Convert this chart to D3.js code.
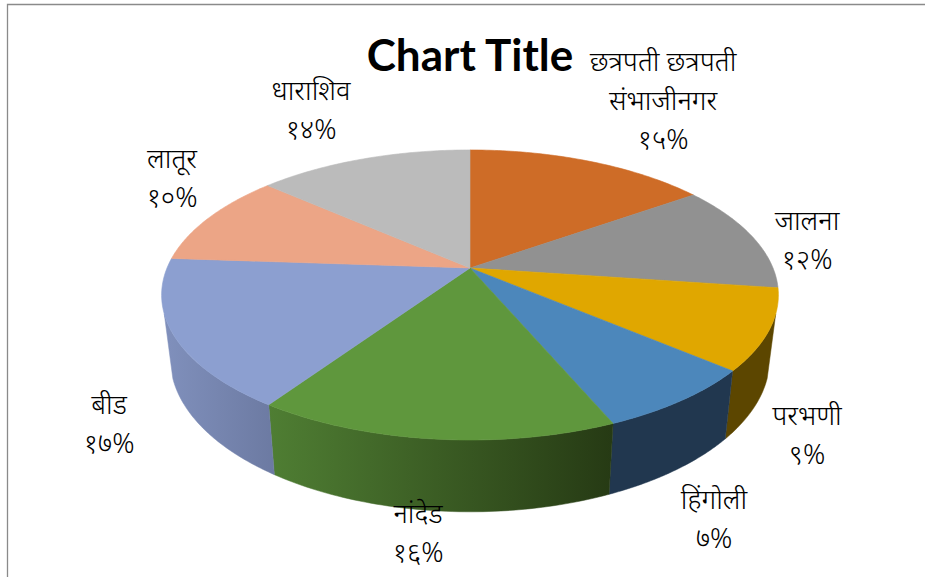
<!DOCTYPE html>
<html>
<head>
<meta charset="utf-8">
<script src="https://cdn.jsdelivr.net/npm/d3@7"></script>
<style>
html,body{margin:0;padding:0;background:#fff;overflow:hidden}
svg{display:block}
text{fill:#000;text-anchor:middle}
.lab{font-family:"Noto Sans",sans-serif;font-size:27.5px;font-weight:300}
.title{font-family:Lato,"Open Sans",sans-serif;font-weight:700;font-size:44px}
</style>
</head>
<body>
<svg id="c" width="925" height="577"></svg>
<script>
const titleText = "Chart Title";
const districts = ["छत्रपती छत्रपती संभाजीनगर","जालना","परभणी","हिंगोली","नांदेड","बीड","लातूर","धाराशिव"];
const shares = [15.2, 12.0, 9.0, 7.4, 15.9, 16.6, 10.4, 13.5];
const shareLabels = ["१५%","१२%","९%","७%","१६%","१७%","१०%","१४%"];
const topColors = ["#CE6C27","#919191","#E0A700","#4C87BB","#5F973D","#8C9FD0","#ECA586","#BBBBBB"];
const sideFrom = ["#7a4018","#575757","#5C4600","#21374F","#4F7E33","#8090BC","#8e6350","#707070"];
const sideTo   = ["#7a4018","#575757","#5C4600","#21374F","#263A14","#6C7AA2","#8e6350","#707070"];
const labelLines = [[["छत्रपती छत्रपती",71],["संभाजीनगर",110],["१५%",149]],null,null,null,null,null,null,null];
const labelPos = [[663,0],[807,230],[807,425],[714,509],[418,523],[109,414],[172,168],[311,100]];

const svg = d3.select("#c");
const W = 925, H = 577;
const persp = 0.186;
const topDisc = {cx:470, cy:268, a:303, b:140};
const botDisc = {cx:470, cy:330, a:294.5, b:148};
const proj = (d, ang) => {
  const X = Math.sin(ang), Y = Math.cos(ang), k = 1 + persp * Y;
  return [d.cx + d.a * X / k, d.cy - d.b * Y / k];
};
const line = d3.line();
const arcPts = (d, a0, a1) => d3.range(0, 61).map(i => proj(d, a0 + (a1 - a0) * i / 60));

const pie = d3.pie().sort(null).value(d => d)(shares);
const defs = svg.append("defs");
const visA = 108 * Math.PI / 180, visB = 252 * Math.PI / 180;

// frame
svg.append("path").attr("d", line([[7.5,H],[7.5,4.5],[W,4.5]]))
  .attr("fill","none").attr("stroke","#8a8a8a").attr("stroke-width",1.3);

// sides
pie.forEach((s, i) => {
  const a0 = Math.max(s.startAngle, visA), a1 = Math.min(s.endAngle, visB);
  if (a1 <= a0) return;
  const t = arcPts(topDisc, a0, a1), b = arcPts(botDisc, a0, a1);
  const xs = t.concat(b).map(p => p[0]);
  const g = defs.append("linearGradient").attr("id","g"+i).attr("gradientUnits","userSpaceOnUse")
    .attr("x1", d3.min(xs)).attr("x2", d3.max(xs)).attr("y1",0).attr("y2",0);
  g.append("stop").attr("offset",0).attr("stop-color", sideFrom[i]);
  g.append("stop").attr("offset",1).attr("stop-color", sideTo[i]);
  svg.append("path").attr("d", line(t.concat(b.reverse())) + "Z")
    .attr("fill","url(#g"+i+")").attr("stroke","url(#g"+i+")").attr("stroke-width",0.5);
});

// top face
pie.forEach((s, i) => {
  const pts = [[topDisc.cx, topDisc.cy]].concat(arcPts(topDisc, s.startAngle, s.endAngle));
  svg.append("path").attr("d", line(pts) + "Z").attr("fill", topColors[i])
    .attr("stroke", topColors[i]).attr("stroke-width",0.6);
});

// title
svg.append("text").attr("class","title").attr("x",470).attr("y",71).text(titleText);

// labels
districts.forEach((n, i) => {
  if (labelLines[i]) {
    labelLines[i].forEach(l => svg.append("text").attr("class","lab").attr("x",labelPos[i][0]).attr("y",l[1]).text(l[0]));
  } else {
    svg.append("text").attr("class","lab").attr("x",labelPos[i][0]).attr("y",labelPos[i][1]).text(n);
    svg.append("text").attr("class","lab").attr("x",labelPos[i][0]).attr("y",labelPos[i][1]+39).text(shareLabels[i]);
  }
});
</script>
</body>
</html>
